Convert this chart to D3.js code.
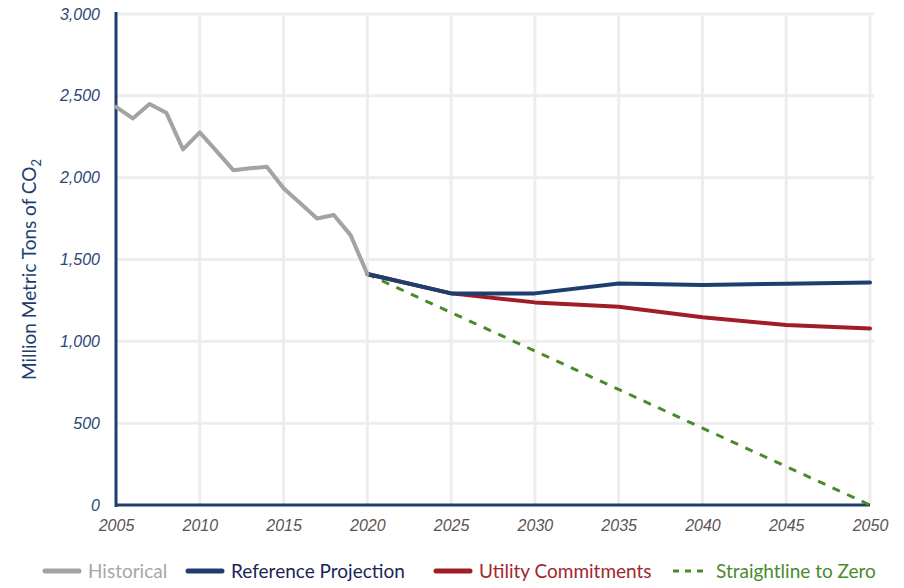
<!DOCTYPE html>
<html><head><meta charset="utf-8">
<script src="https://cdn.jsdelivr.net/npm/d3@7"></script>
<style>
body{margin:0;background:#fff;}
svg{display:block;font-family:Lato,"Open Sans",sans-serif;}
</style></head>
<body><svg id="c" width="904" height="588"></svg>
<script>
const historicalYears = [2005,2006,2007,2008,2009,2010,2011,2012,2013,2014,2015,2016,2017,2018,2019,2020];
const historicalValues = [2433,2362,2450,2397,2173,2277,2162,2046,2057,2067,1935,1843,1751,1772,1649,1411];
const projYears = [2020,2025,2030,2035,2040,2045,2050];
const referenceValues = [1411,1293,1293,1354,1344,1352,1360];
const utilityValues = [1411,1293,1238,1211,1147,1100,1079];
const straightValues = [1411,1176,941,706,470,235,0];
const xTicks = [2005,2010,2015,2020,2025,2030,2035,2040,2045,2050];
const yTicks = [0,500,1000,1500,2000,2500,3000];
const legendItems = [
  {name:"Historical", color:"#a3a3a3", text:"#a6a6a6", dash:null},
  {name:"Reference Projection", color:"#1d3f6e", text:"#1a2456", dash:null},
  {name:"Utility Commitments", color:"#a11d26", text:"#a3262c", dash:null},
  {name:"Straightline to Zero", color:"#4a8a2a", text:"#4b8a2e", dash:"6,6"}
];

const svg = d3.select("#c");
const x = d3.scaleLinear().domain([2005,2050]).range([116,870]);
const y = d3.scaleLinear().domain([0,3000]).range([505,14]);

// gridlines
const g = svg.append("g");
g.selectAll("line.v").data(xTicks.slice(1)).join("line")
  .attr("x1",d=>x(d)).attr("x2",d=>x(d)).attr("y1",y(3000)).attr("y2",y(0))
  .attr("stroke","#ededed").attr("stroke-width",3);
g.selectAll("line.h").data(yTicks.slice(1)).join("line")
  .attr("x1",x(2005)).attr("x2",x(2050)+4).attr("y1",d=>y(d)).attr("y2",d=>y(d))
  .attr("stroke","#ededed").attr("stroke-width",3);

// axes
const yAxis = svg.append("g").attr("transform",`translate(${x(2005)-16},0)`)
  .call(d3.axisLeft(y).tickValues(yTicks).tickSize(0).tickPadding(0).tickFormat(d3.format(",")));
yAxis.select(".domain").remove();
yAxis.selectAll("text").attr("fill","#2a4677").attr("font-size",16).attr("font-style","italic");

const xAxis = svg.append("g").attr("transform",`translate(0,${y(0)+7})`)
  .call(d3.axisBottom(x).tickValues(xTicks).tickSize(0).tickPadding(8).tickFormat(d3.format("d")));
xAxis.select(".domain").remove();
xAxis.selectAll("text").attr("fill","#5a5454").attr("font-size",16).attr("font-style","italic");

svg.append("line").attr("x1",x(2005)).attr("x2",x(2005)).attr("y1",y(3000)-2).attr("y2",y(0)+2)
  .attr("stroke","#1d3f6e").attr("stroke-width",3);
svg.append("line").attr("x1",x(2005)).attr("x2",x(2050)).attr("y1",y(0)).attr("y2",y(0))
  .attr("stroke","#1d3f6e").attr("stroke-width",3);

// y label
svg.append("text").attr("transform",`translate(36,${y(1500)+10}) rotate(-90)`)
  .attr("text-anchor","middle").attr("fill","#1d3f6e").attr("font-size",19)
  .text("Million Metric Tons of CO").append("tspan").attr("font-size",13).attr("dy",5).text("2");

const line = d3.line().x(d=>x(d[0])).y(d=>y(d[1]));
const zip = (a,b)=>a.map((v,i)=>[v,b[i]]);

svg.append("path").datum(zip(projYears,straightValues)).attr("d",line)
  .attr("fill","none").attr("stroke","#4a8a2a").attr("stroke-width",3).attr("stroke-dasharray","8,8");
svg.append("path").datum(zip(projYears,utilityValues)).attr("d",line)
  .attr("fill","none").attr("stroke","#a11d26").attr("stroke-width",4).attr("stroke-linejoin","round").attr("stroke-linecap","round");
svg.append("path").datum(zip(projYears,referenceValues)).attr("d",line)
  .attr("fill","none").attr("stroke","#1d3f6e").attr("stroke-width",4).attr("stroke-linejoin","round").attr("stroke-linecap","round");
svg.append("path").datum(zip(historicalYears,historicalValues)).attr("d",line)
  .attr("fill","none").attr("stroke","#a3a3a3").attr("stroke-width",4).attr("stroke-linejoin","round").attr("stroke-linecap","round");

// legend
const legX = [45,188,436,673];
const lg = svg.append("g");
legendItems.forEach((it,i)=>{
  const gx = legX[i];
  lg.append("line").attr("x1",gx).attr("x2",gx+34).attr("y1",571).attr("y2",571)
    .attr("stroke",it.color).attr("stroke-width",it.dash?3:5).attr("stroke-linecap",it.dash?"butt":"round")
    .attr("stroke-dasharray",it.dash);
  lg.append("text").attr("x",gx+43).attr("y",578).attr("fill",it.text).attr("font-size",19).text(it.name);
});
</script></body></html>
